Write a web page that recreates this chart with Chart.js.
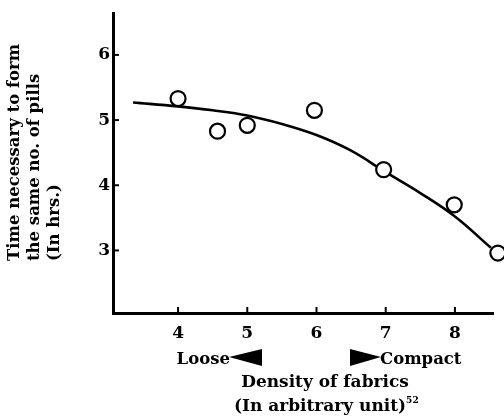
<!DOCTYPE html>
<html>
<head>
<meta charset="utf-8">
<script src="https://cdn.jsdelivr.net/npm/chart.js@4.4.1/dist/chart.umd.min.js"></script>
<style>
  html, body { margin: 0; padding: 0; background: #fff; }
  #wrap { width: 504px; height: 417px; position: relative; }
</style>
</head>
<body>
<div id="wrap"><canvas id="c"></canvas></div>
<script>
// measured points (density, hours)
const densityPts = [4.0, 4.57, 5.0, 5.97, 6.97, 7.99, 8.62];
const hoursPts = [5.33, 4.83, 4.92, 5.15, 4.24, 3.70, 2.96];

// fitted curve
const curveX = [3.35, 4.0, 4.5, 5.0, 5.5, 6.0, 6.5, 7.0, 7.5, 8.0, 8.52];
const curveY = [5.27, 5.21, 5.15, 5.07, 4.94, 4.77, 4.53, 4.20, 3.88, 3.52, 3.04];

const xTicks = [4, 5, 6, 7, 8];
const yTicks = [3, 4, 5, 6];

const yTitle = ['Time necessary to form', 'the same no. of pills', '(In hrs.)'];
const xTitle = ['Density of fabrics', '(In arbitrary unit)'];

const FONT = '"DejaVu Serif", "Liberation Serif", serif';

const decor = {
    id: 'decor',
    afterDraw(chart) {
        const { ctx, chartArea: a, scales: { x, y } } = chart;
        ctx.save();
        ctx.strokeStyle = '#000';
        ctx.fillStyle = '#000';
        ctx.lineWidth = 2;
        // inward tick marks
        xTicks.forEach(v => {
            const px = x.getPixelForValue(v);
            ctx.beginPath(); ctx.moveTo(px, a.bottom); ctx.lineTo(px, a.bottom - 6); ctx.stroke();
        });
        yTicks.forEach(v => {
            const py = y.getPixelForValue(v);
            ctx.beginPath(); ctx.moveTo(a.left, py); ctx.lineTo(a.left + 6, py); ctx.stroke();
        });

        // y title, rotated, left aligned at the bottom
        ctx.save();
        ctx.font = 'bold 16.5px ' + FONT;
        ctx.textAlign = 'left';
        ctx.textBaseline = 'middle';
        [15, 35, 55].forEach((cx, i) => {
            ctx.save();
            ctx.translate(cx, 261);
            ctx.rotate(-Math.PI / 2);
            ctx.fillText(yTitle[i], 0, 0);
            ctx.restore();
        });
        ctx.restore();

        // Loose / Compact
        ctx.font = 'bold 16.5px ' + FONT;
        ctx.textBaseline = 'alphabetic';
        ctx.textAlign = 'right';
        ctx.fillText('Loose', 230, 364);
        ctx.beginPath();
        ctx.moveTo(229, 357); ctx.lineTo(262, 349); ctx.lineTo(262, 366); ctx.closePath(); ctx.fill();
        ctx.beginPath();
        ctx.moveTo(381, 357); ctx.lineTo(350, 349); ctx.lineTo(350, 366); ctx.closePath(); ctx.fill();
        ctx.textAlign = 'left';
        ctx.fillText('Compact', 380, 364);

        // x title
        ctx.font = 'bold 17px ' + FONT;
        ctx.textAlign = 'center';
        const cx = 325;
        ctx.fillText(xTitle[0], cx, 387);
        ctx.fillText(xTitle[1], cx - 5, 411);
        const w = ctx.measureText(xTitle[1]).width;
        ctx.font = 'bold 9px ' + FONT;
        ctx.textAlign = 'left';
        ctx.fillText('52', cx - 5 + w / 2, 403);
        ctx.restore();
    }
};

new Chart(document.getElementById('c'), {
    data: {
        datasets: [
            {
                type: 'scatter',
                data: densityPts.map((v, i) => ({ x: v, y: hoursPts[i] })),
                pointRadius: 7.5,
                pointBorderWidth: 2.2,
                borderColor: '#000',
                backgroundColor: '#fff',
                pointBackgroundColor: '#fff',
                pointBorderColor: '#000',
                clip: false,
                order: 0,
            },
            {
                type: 'line',
                data: curveX.map((v, i) => ({ x: v, y: curveY[i] })),
                borderColor: '#000',
                borderWidth: 2.6,
                pointRadius: 0,
                tension: 0.4,
                fill: false,
                clip: false,
                order: 1,
            },
        ],
    },
    options: {
        responsive: true,
        maintainAspectRatio: false,
        animation: false,
        layout: { padding: { left: 0, top: 8, right: 11, bottom: 0 } },
        plugins: { legend: { display: false }, tooltip: { enabled: false } },
        scales: {
            x: {
                type: 'linear',
                min: 3.06,
                max: 8.55,
                afterBuildTicks: s => { s.ticks = xTicks.map(v => ({ value: v })); },
                afterFit: s => { s.height = 104; },
                grid: { display: false, drawTicks: false },
                border: { color: '#000', width: 3 },
                ticks: { color: '#000', padding: 10, font: { family: FONT, weight: 'bold', size: 17 } },
            },
            y: {
                type: 'linear',
                min: 2.04,
                max: 6.64,
                afterBuildTicks: s => { s.ticks = yTicks.map(v => ({ value: v })); },
                afterFit: s => { s.width = 113; },
                grid: { display: false, drawTicks: false },
                border: { color: '#000', width: 3 },
                ticks: { color: '#000', padding: 3, font: { family: FONT, weight: 'bold', size: 17 } },
            },
        },
    },
    plugins: [decor],
});
</script>
</body>
</html>
